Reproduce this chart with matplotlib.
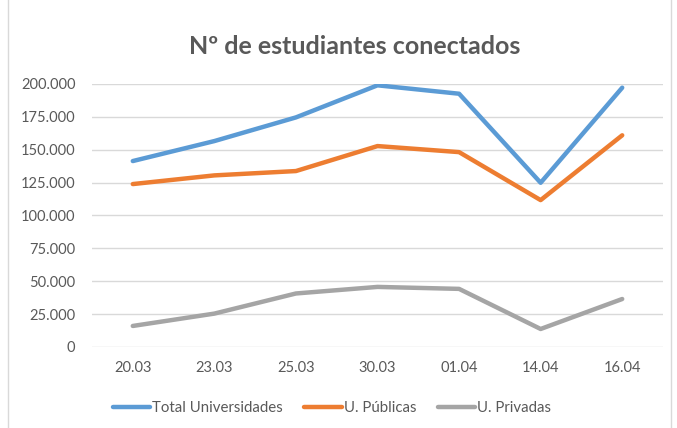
import matplotlib
matplotlib.use("Agg")
import matplotlib.pyplot as plt
from matplotlib.ticker import FuncFormatter
from matplotlib.patches import Rectangle

plt.rcParams['font.family'] = ['Lato', 'DejaVu Sans']

categories = ["20.03", "23.03", "25.03", "30.03", "01.04", "14.04", "16.04"]
total = [141400, 156600, 174600, 199000, 192600, 124900, 197200]
publicas = [123900, 130500, 133800, 152800, 148200, 111700, 161000]
privadas = [16000, 25400, 40700, 45700, 44200, 13700, 36500]
series_names = ["Total Universidades", "U. Públicas", "U. Privadas"]
colors = ["#5B9BD5", "#ED7D31", "#A5A5A5"]
yticks = [0, 25000, 50000, 75000, 100000, 125000, 150000, 175000, 200000]

W, H = 677, 428
fig = plt.figure(figsize=(W / 100, H / 100), dpi=100)
ax = fig.add_axes([92 / W, 1 - 347 / H, (663 - 92) / W, (347 - 84) / H])

x = list(range(len(categories)))
for vals, name, c in zip([total, publicas, privadas], series_names, colors):
    ax.plot(x, vals, color=c, lw=3.2, label=name, solid_capstyle='round', solid_joinstyle='round')

ax.set_xlim(-0.5, len(categories) - 0.5)
ax.set_ylim(0, 200000)
ax.set_yticks(yticks)
ax.yaxis.set_major_formatter(FuncFormatter(lambda v, p: "0" if v == 0 else f"{int(v):,}".replace(",", ".")))
ax.set_xticks(x)
ax.set_xticklabels(categories)
ax.grid(axis='y', color='#D9D9D9', lw=1)
ax.set_axisbelow(True)
for s in ax.spines.values():
    s.set_visible(False)
ax.tick_params(length=0, labelsize=10.5, colors='#595959')
ax.tick_params(axis='y', pad=12)
ax.tick_params(axis='x', pad=10)

fig.text(355 / W, 1 - 47 / H, "Nº de estudiantes conectados", ha='center', va='center',
         fontsize=18, fontweight='bold', color='#595959')

fig.legend(loc='center', bbox_to_anchor=(332 / W, 1 - 408 / H), ncol=3, frameon=False,
           fontsize=10.8, handlelength=2.5, handletextpad=0.15, columnspacing=1.4,
           labelcolor='#595959')

fig.patches.append(Rectangle((8 / W, -0.01), (671 - 8) / W, 1.02, transform=fig.transFigure,
                             fill=False, edgecolor='#D9D9D9', lw=1))

fig.savefig("out.png", dpi=100)
